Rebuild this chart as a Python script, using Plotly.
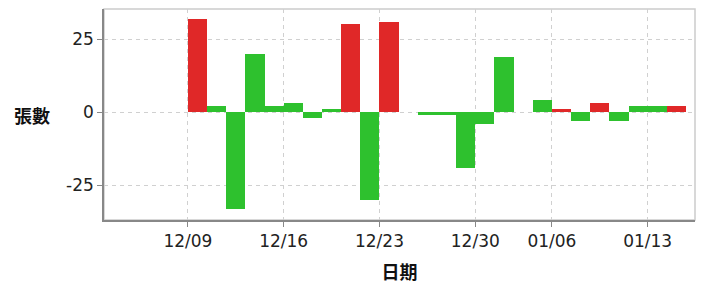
import plotly.graph_objects as go

# ---- data ----
dates = ["12/09", "12/10", "12/11", "12/12", "12/13",
         "12/16", "12/17", "12/18", "12/19", "12/20",
         "12/23", "12/24", "12/25", "12/26", "12/27",
         "12/30", "12/31", "01/02", "01/03",
         "01/06", "01/07", "01/08", "01/09", "01/10",
         "01/13", "01/14"]
red_values = [32, None, None, None, None,
              None, None, None, 30, None,
              31, None, None, None, None,
              None, None, None, None,
              1, None, 3, None, None,
              None, 2]
green_values = [None, 2, -33, 20, 2,
                3, -2, 1, None, -30,
                None, 0, -1, -1, -19,
                -4, 19, 0, 4,
                None, -3, None, -3, 2,
                2, None]
tick_labels = ["12/09", "12/16", "12/23", "12/30", "01/06", "01/13"]
y_ticks = [-25, 0, 25]
y_tick_labels = ["-25", "0", "25"]

RED = "#e02828"
GREEN = "#2ec12e"
TICK_FONT = dict(family="DejaVu Sans", size=17, color="#222222")
CJK_FONT = dict(family="Noto Sans CJK TC", size=18, color="#111111", weight="bold")

fig = go.Figure()
fig.add_trace(go.Bar(x=dates, y=red_values, marker=dict(color=RED, line=dict(width=0)),
                     width=1, offset=0, showlegend=False))
fig.add_trace(go.Bar(x=dates, y=green_values, marker=dict(color=GREEN, line=dict(width=0)),
                     width=1, offset=0, showlegend=False))

fig.update_layout(
    width=701, height=292,
    margin=dict(l=104, r=6, t=9, b=72),
    paper_bgcolor="white", plot_bgcolor="white",
    barmode="overlay", bargap=0,
    xaxis=dict(
        type="category", categoryorder="array", categoryarray=dates,
        range=[-4.38, 26.47],
        tickmode="array", tickvals=tick_labels, ticktext=tick_labels,
        showgrid=True, gridcolor="#d0d0d0", griddash="4px,4px", gridwidth=1,
        showline=True, linecolor="#888888", linewidth=1.5,
        ticks="outside", ticklen=5, tickcolor="#888888",
        tickfont=TICK_FONT,
        title=dict(text="日期", font=CJK_FONT, standoff=16),
        zeroline=False,
    ),
    yaxis=dict(
        range=[-36.9, 35.3],
        tickmode="array", tickvals=y_ticks, ticktext=y_tick_labels,
        showgrid=True, gridcolor="#d0d0d0", griddash="4px,4px", gridwidth=1,
        showline=True, linecolor="#888888", linewidth=1.5,
        ticks="outside", ticklen=5, tickcolor="#888888",
        tickfont=TICK_FONT,
        zeroline=False,
    ),
    shapes=[dict(type="rect", xref="paper", yref="paper", x0=0, x1=1, y0=0, y1=1,
                 line=dict(color="#cccccc", width=1.5), layer="below")],
    annotations=[dict(text="張數", xref="paper", yref="y", x=-0.088, y=0,
                      xanchor="right", yanchor="middle", showarrow=False,
                      yshift=-3, font=CJK_FONT)],
)

fig.write_html("out.html", config={"displayModeBar": False},
               post_script="document.body.style.margin='0';document.body.style.overflow='hidden';")
